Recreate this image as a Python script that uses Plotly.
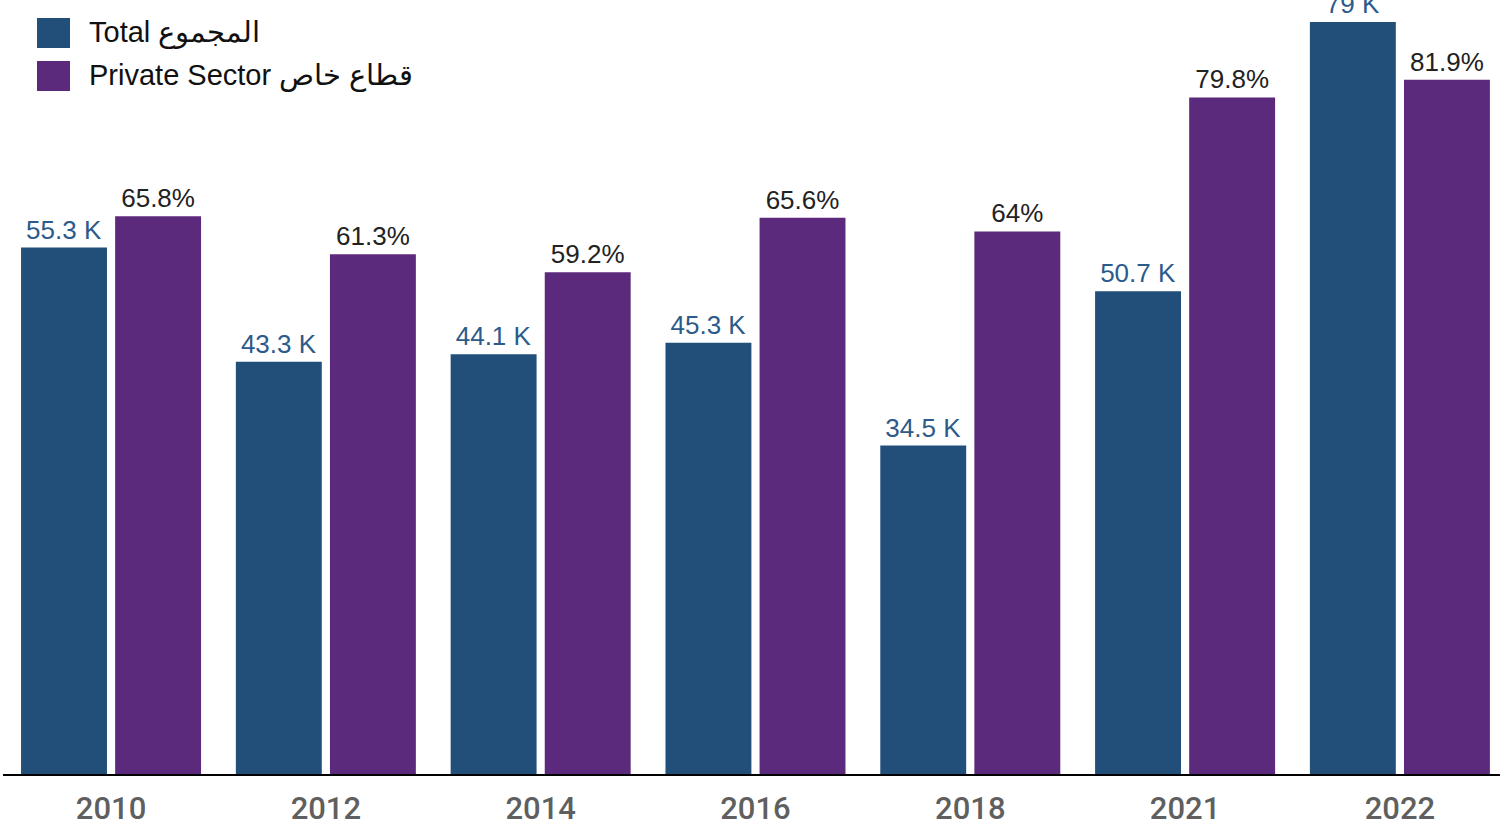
import plotly.graph_objects as go

years = ["2010", "2012", "2014", "2016", "2018", "2021", "2022"]
total_k = [55.3, 43.3, 44.1, 45.3, 34.5, 50.7, 79.0]
total_labels = ["55.3 K", "43.3 K", "44.1 K", "45.3 K", "34.5 K", "50.7 K", "79 K"]
private_pct = [65.8, 61.3, 59.2, 65.6, 64.0, 79.8, 81.9]
private_labels = ["65.8%", "61.3%", "59.2%", "65.6%", "64%", "79.8%", "81.9%"]

legend_names = ["Total المجموع", "Private Sector قطاع خاص"]

C_TOTAL = "#224f7a"
C_PRIV = "#5c2a7c"
FONT = "Liberation Sans"

W, H = 1500, 829
ML, MR, MT, MB = 3, 0, 0, 55
PW, PH = W - ML - MR, H - MT - MB

fig = go.Figure()
fig.add_trace(go.Bar(
    x=years, y=total_k, text=total_labels, textposition="outside",
    marker=dict(color=C_TOTAL, line=dict(width=0)),
    width=0.4, offset=-0.419, yaxis="y", name=legend_names[0],
    textfont=dict(family=FONT, size=26, color="#2c5a8a"),
    constraintext="none", cliponaxis=False, showlegend=False,
))
fig.add_trace(go.Bar(
    x=years, y=private_pct, text=private_labels, textposition="outside",
    marker=dict(color=C_PRIV, line=dict(width=0)),
    width=0.4, offset=0.019, yaxis="y2", name=legend_names[1],
    textfont=dict(family=FONT, size=26, color="#222222"),
    constraintext="none", cliponaxis=False, showlegend=False,
))

def px_x(p):
    return (p - ML) / PW

def px_y(p):
    return (H - MB - p) / PH

shapes = []
annotations = []
legend_rows = [(18, 48, C_TOTAL), (61, 91, C_PRIV)]
for (y0, y1, col), name in zip(legend_rows, legend_names):
    shapes.append(dict(type="rect", xref="paper", yref="paper",
                       x0=px_x(37), x1=px_x(70), y0=px_y(y1), y1=px_y(y0),
                       fillcolor=col, line=dict(width=0)))
    annotations.append(dict(xref="paper", yref="paper", x=px_x(87), y=px_y((y0 + y1) / 2),
                            text=name, showarrow=False, xanchor="left", yanchor="middle",
                            font=dict(family=FONT, size=29, color="#111111")))

fig.update_layout(
    width=W, height=H,
    margin=dict(l=ML, r=MR, t=MT, b=MB),
    paper_bgcolor="white", plot_bgcolor="white",
    barmode="group",
    xaxis=dict(type="category", range=[-0.503, 6.466], showline=True, linecolor="black",
               linewidth=2, showgrid=False, ticks="", zeroline=False,
               ticklabelstandoff=6,
               tickfont=dict(family="Roboto", size=31, color="#5f5f5f", weight=500)),
    yaxis=dict(range=[0, 81.3], visible=False, showgrid=False, zeroline=False),
    yaxis2=dict(range=[0, 91.3], visible=False, overlaying="y", showgrid=False, zeroline=False),
    shapes=shapes, annotations=annotations,
    showlegend=False,
)

fig.write_html("out.html", config={"displayModeBar": False},
               post_script="document.body.style.margin='0';")
